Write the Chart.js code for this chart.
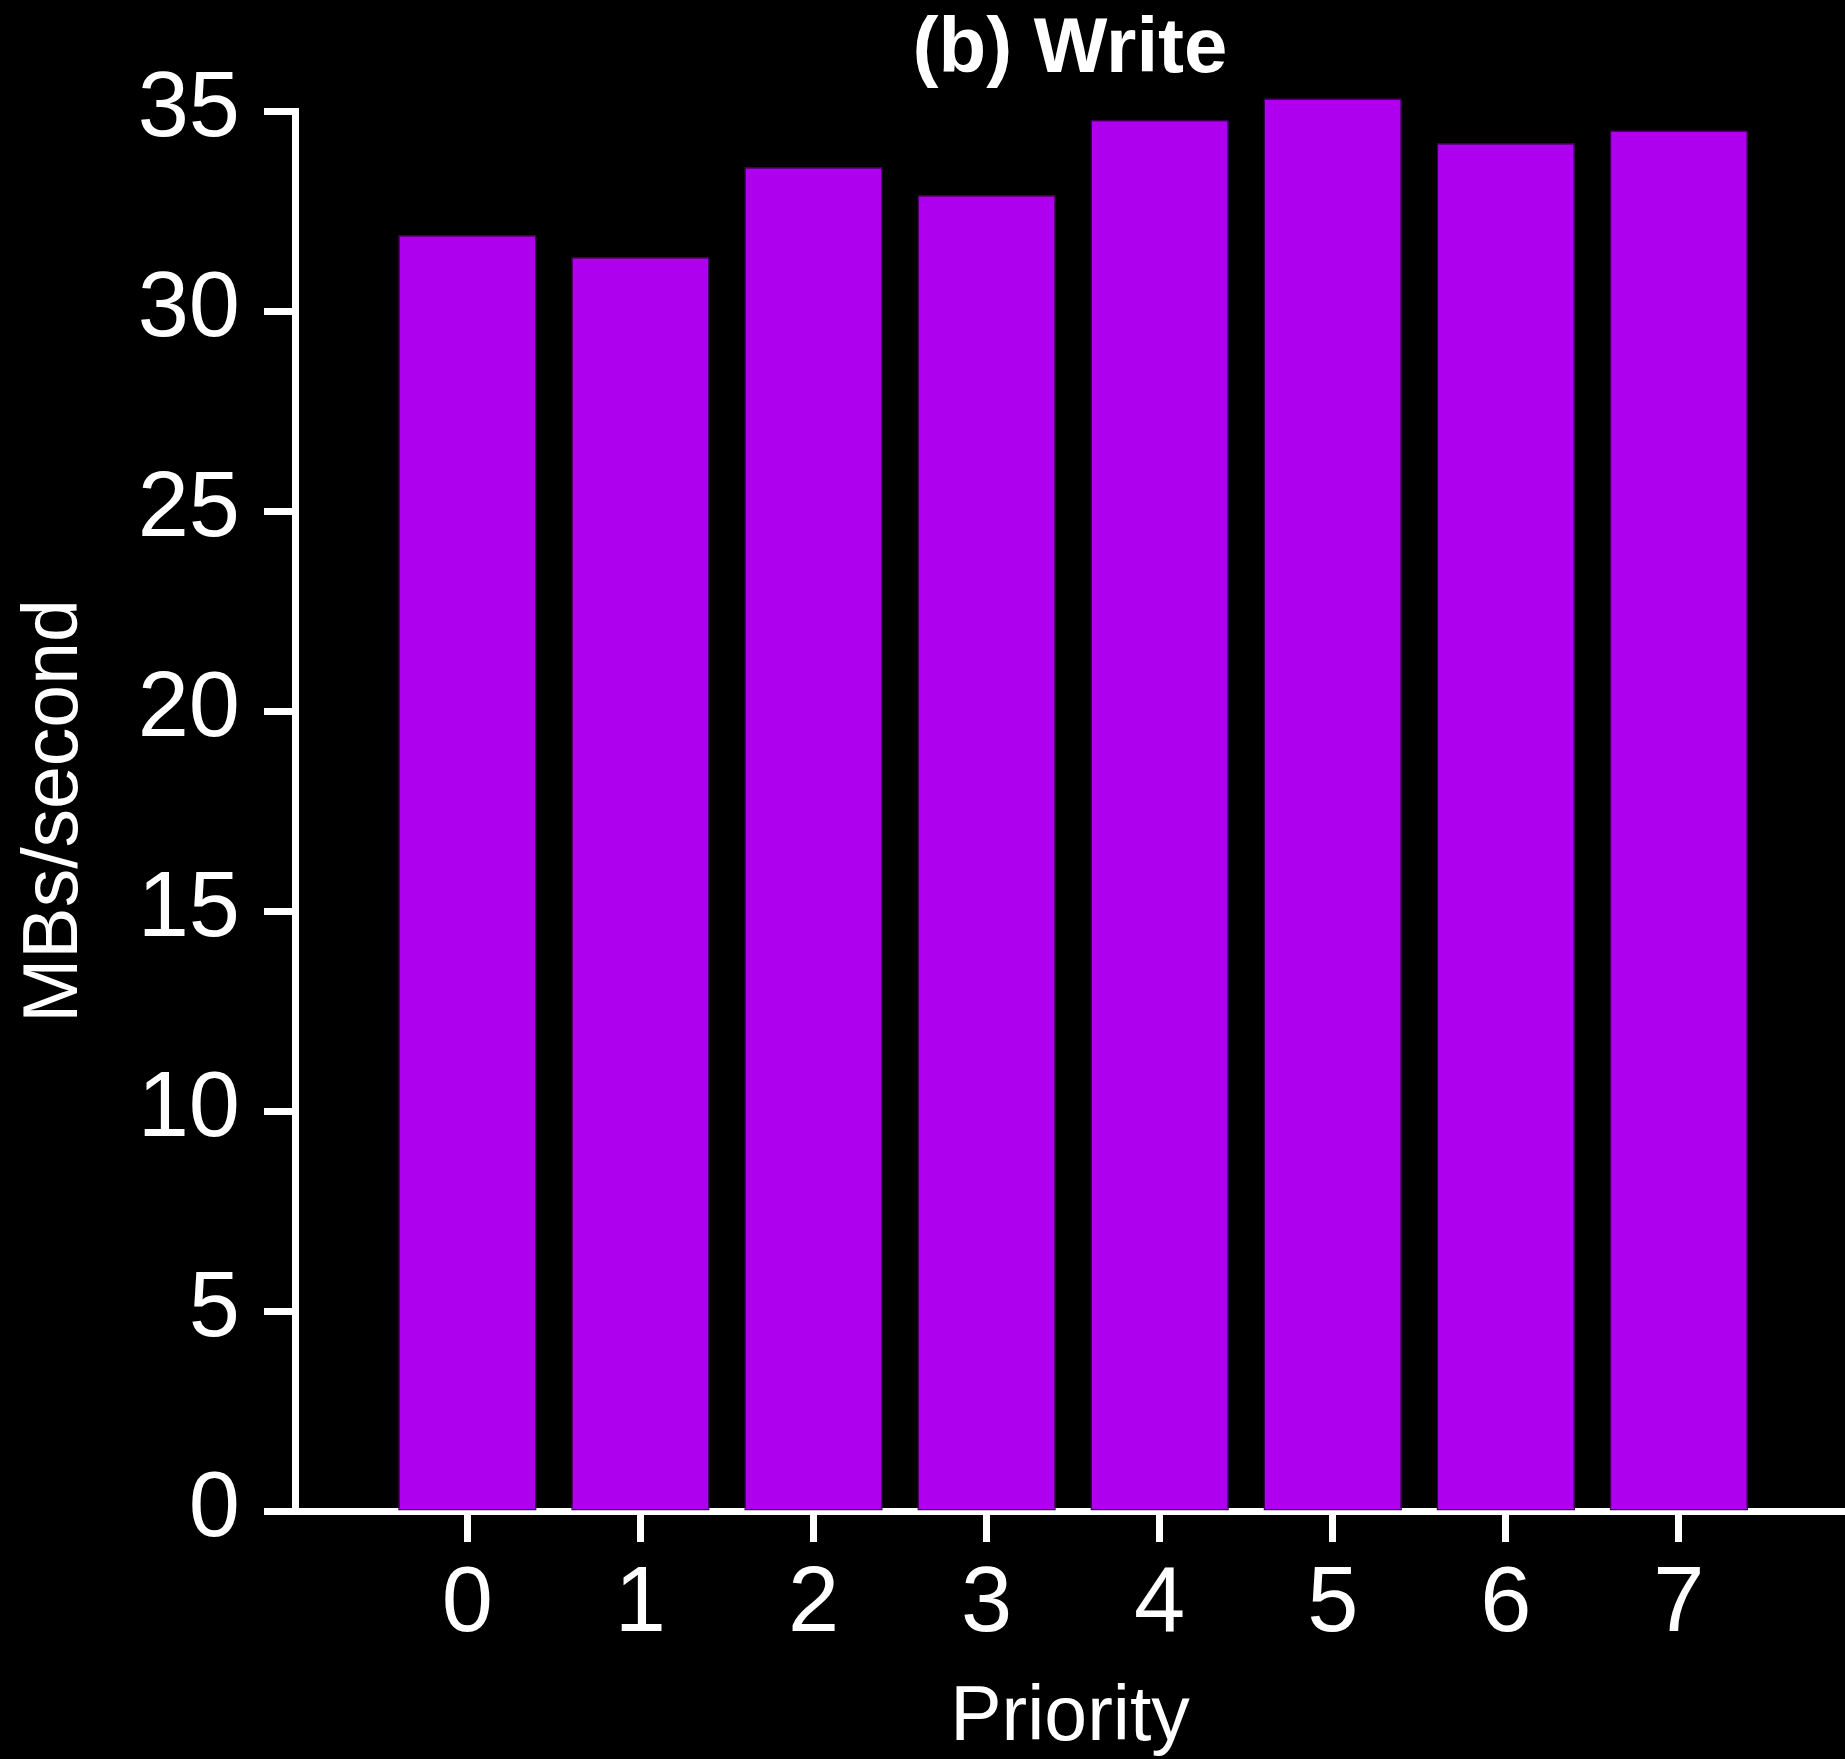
<!DOCTYPE html>
<html>
<head>
<meta charset="utf-8">
<script src="https://cdn.jsdelivr.net/npm/chart.js@4.4.1/dist/chart.umd.min.js"></script>
<style>
  html, body { margin: 0; padding: 0; background: #000; }
  canvas { display: block; }
</style>
</head>
<body>
<canvas id="c" width="1845" height="1759"></canvas>
<script>
// ---- data ----
const categories = [0, 1, 2, 3, 4, 5, 6, 7];
const xTickLabels = ['0', '1', '2', '3', '4', '5', '6', '7'];
const writeMBs = [31.9, 31.35, 33.6, 32.9, 34.78, 35.32, 34.2, 34.52];
const yTickValues = [0, 5, 10, 15, 20, 25, 30, 35];
const titleText = '(b) Write';
const xTitle = 'Priority';
const yTitle = 'MBs/second';

Chart.defaults.font.family = "'Liberation Sans', Arial, Helvetica, sans-serif";
Chart.defaults.color = '#ffffff';

const points = categories.map((c, i) => ({ x: c, y: writeMBs[i] }));

new Chart(document.getElementById('c'), {
  type: 'bar',
  data: {
    datasets: [{
      data: points,
      backgroundColor: '#ae00ee',
      borderColor: '#3c0052',
      borderWidth: 1.5,
      borderSkipped: false,
      barPercentage: 0.8,
      categoryPercentage: 1.0,
      clip: false
    }]
  },
  options: {
    responsive: false,
    animation: false,
    devicePixelRatio: 1,
    layout: { padding: 0 },
    plugins: {
      legend: { display: false },
      tooltip: { enabled: false },
      title: {
        display: true,
        text: titleText,
        color: '#ffffff',
        fullSize: false,
        font: { size: 78, weight: 'bold' },
        padding: { top: 4, bottom: 13.4 }
      }
    },
    scales: {
      x: {
        type: 'linear',
        offset: false,
        min: -0.996,
        max: 7.96,
        grid: {
          offset: false,
          display: true,
          drawOnChartArea: false,
          drawTicks: true,
          tickLength: 31,
          tickWidth: 7,
          tickColor: '#ffffff'
        },
        border: { display: true, color: '#ffffff', width: 7 },
        afterBuildTicks: (scale) => {
          scale.ticks = categories.map(v => ({ value: v }));
        },
        ticks: {
          padding: 8,
          color: '#ffffff',
          font: { size: 92 },
          maxRotation: 0,
          autoSkip: false,
          callback: (value) => {
            const i = categories.indexOf(value);
            return i >= 0 ? xTickLabels[i] : '';
          }
        },
        title: {
          display: true,
          text: xTitle,
          color: '#ffffff',
          font: { size: 77, lineHeight: 1.0 },
          padding: { top: 1.5, bottom: 1.5 }
        },
        afterFit: (scale) => { scale.height = 248; }
      },
      y: {
        type: 'linear',
        min: 0,
        max: 35,
        grid: {
          display: true,
          drawOnChartArea: false,
          drawTicks: true,
          tickLength: 31,
          tickWidth: 7,
          tickColor: '#ffffff'
        },
        border: { display: true, color: '#ffffff', width: 7 },
        afterBuildTicks: (scale) => {
          scale.ticks = yTickValues.map(v => ({ value: v }));
        },
        ticks: {
          padding: 24,
          color: '#ffffff',
          font: { size: 92 },
          callback: (value) => String(value)
        },
        title: {
          display: true,
          text: yTitle,
          color: '#ffffff',
          font: { size: 77, lineHeight: 1.0 },
          padding: { top: 17, bottom: 17 }
        },
        afterFit: (scale) => { scale.width = 295; }
      }
    }
  }
});
</script>
</body>
</html>
